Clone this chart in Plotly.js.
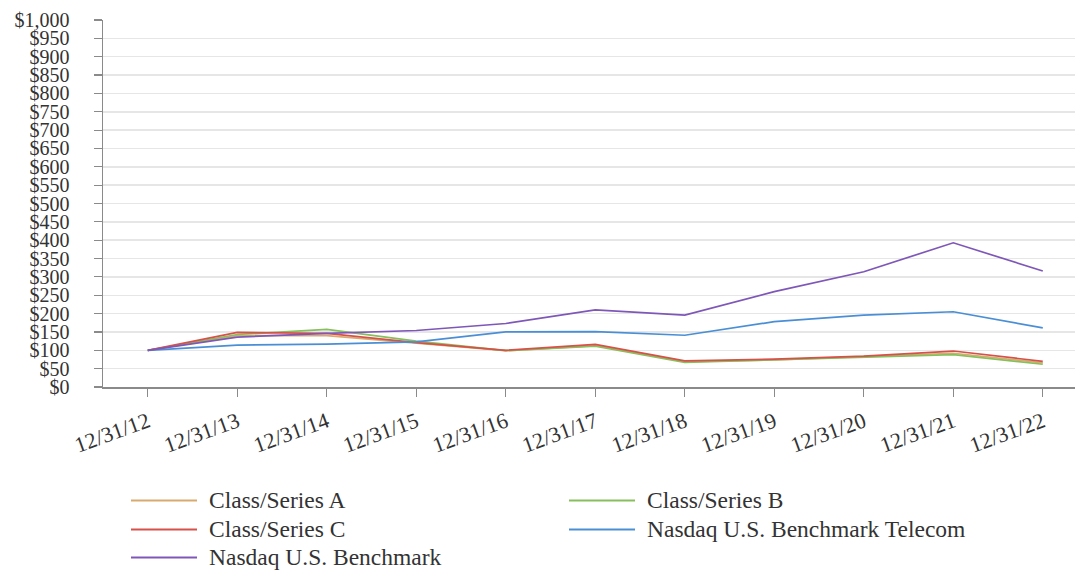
<!DOCTYPE html>
<html>
<head>
<meta charset="utf-8">
<script src="https://cdn.plot.ly/plotly-3.0.1.min.js"></script>
<style>html,body{margin:0;padding:0;background:#fff;}#chart{width:1075px;height:570px;}</style>
</head>
<body>
<div id="chart"></div>
<script>
const dates = ["12/31/12","12/31/13","12/31/14","12/31/15","12/31/16","12/31/17","12/31/18","12/31/19","12/31/20","12/31/21","12/31/22"];
const seriesNames = ["Class/Series A","Class/Series B","Class/Series C","Nasdaq U.S. Benchmark Telecom","Nasdaq U.S. Benchmark"];
const classA = [100, 140, 140, 119, 99, 113, 69, 74, 82, 92, 66];
const classB = [100, 143, 157, 125, 99, 111, 67, 74, 80, 88, 62];
const classC = [100, 149, 146, 121, 100, 116, 71, 76, 84, 98, 70];
const telecom = [100, 114, 117, 123, 150, 151, 141, 178, 196, 205, 161];
const benchmark = [100, 136, 146, 154, 173, 210, 196, 260, 314, 393, 316];
const colors = ["#d9aa6e","#86bf5c","#d6514a","#4a8fd6","#7e57b8"];

const values = [classA, classB, classC, telecom, benchmark];
const FONT = "Liberation Serif, Times New Roman, serif";

const W = 1075, H = 570, ML = 103, MR = 0, MT = 20, MB = 183.3;
const pw = W - ML - MR, ph = H - MT - MB;
const px2x = p => (p - ML) / pw;
const py2y = p => 1 - (p - MT) / ph;

const traces = values.map((v, i) => ({
  type: "scatter", mode: "lines", x: dates, y: v, name: seriesNames[i],
  line: {color: colors[i], width: 1.7}, showlegend: false
}));

// custom legend (two columns)
const legendPos = [[131, 500],[569, 500],[131, 529],[569, 529],[131, 557]];
const shapes = [], annotations = [];
seriesNames.forEach((n, i) => {
  const [lx, ly] = legendPos[i];
  shapes.push({type: "line", xref: "paper", yref: "paper",
    x0: px2x(lx), x1: px2x(lx + 66), y0: py2y(ly), y1: py2y(ly),
    line: {color: colors[i], width: 2}});
  annotations.push({xref: "paper", yref: "paper", x: px2x(lx + 76), y: py2y(ly),
    xanchor: "left", yanchor: "middle", text: n, showarrow: false,
    font: {family: FONT, size: 23.5, color: "#333"}});
});

const layout = {
  width: W, height: H,
  margin: {l: ML, r: MR, t: MT, b: MB, pad: 0},
  paper_bgcolor: "#fff", plot_bgcolor: "#fff",
  showlegend: false,
  xaxis: {
    type: "category", categoryorder: "array", categoryarray: dates,
    range: [-0.5, 10.36], tickangle: -20,
    showgrid: false, zeroline: false,
    showline: true, linecolor: "#8a8a8a", linewidth: 1.5,
    ticks: "outside", ticklen: 8, tickcolor: "#8a8a8a", tickwidth: 1.2,
    tickfont: {family: FONT, size: 22, color: "#333"},
    ticklabelstandoff: 4
  },
  yaxis: {
    range: [0, 1000], dtick: 50, tick0: 0,
    tickprefix: "$", tickformat: ",d",
    showgrid: true, gridcolor: "#e6e6e6", gridwidth: 1.5,
    zeroline: false,
    showline: true, linecolor: "#8a8a8a", linewidth: 1.5,
    ticks: "outside", ticklen: 8, tickcolor: "#8a8a8a", tickwidth: 1.2,
    tickfont: {family: FONT, size: 20, color: "#333"},
    ticklabelstandoff: 20
  },
  shapes: shapes,
  annotations: annotations
};

Plotly.newPlot("chart", traces, layout, {displayModeBar: false, staticPlot: true});
</script>
</body>
</html>
